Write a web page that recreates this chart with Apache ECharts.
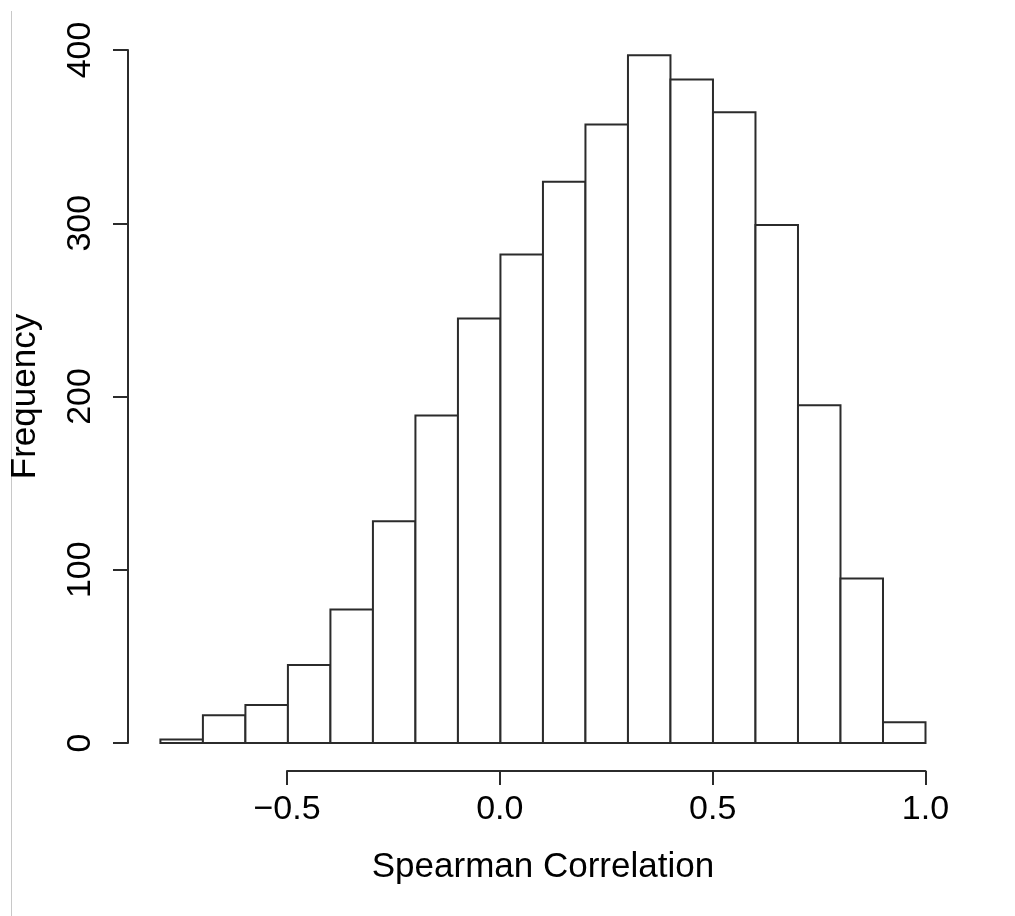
<!DOCTYPE html>
<html>
<head>
<meta charset="utf-8">
<script src="https://cdn.jsdelivr.net/npm/echarts@6/dist/echarts.min.js"></script>
<style>
  html, body { margin: 0; padding: 0; background: #fff; }
  #hist { width: 1015px; height: 916px; }
</style>
</head>
<body>
<div id="hist"></div>
<script>
// bin edges (Spearman correlation) and counts per bin
var binEdges = [-0.8, -0.7, -0.6, -0.5, -0.4, -0.3, -0.2, -0.1, 0.0, 0.1,
                0.2, 0.3, 0.4, 0.5, 0.6, 0.7, 0.8, 0.9, 1.0];
var binCounts = [2, 16, 22, 45, 77, 128, 189, 245, 282, 324,
                 357, 397, 383, 364, 299, 195, 95, 12];
var xTicks = [-0.5, 0.0, 0.5, 1.0];
var yTicks = [0, 100, 200, 300, 400];
var xTitle = 'Spearman Correlation';
var yTitle = 'Frequency';

var fontFam = "'Liberation Sans', Arial, sans-serif";
var lineCol = '#2b2b2b';
var textCol = '#000';

// rows for the custom series: [start, end, count]
var histData = binCounts.map(function (c, i) {
  return [binEdges[i], binEdges[i + 1], c];
});

function renderBin(params, api) {
  var p0 = api.coord([api.value(0), 0]);
  var p1 = api.coord([api.value(1), api.value(2)]);
  return {
    type: 'rect',
    shape: { x: p0[0], y: p1[1], width: p1[0] - p0[0], height: p0[1] - p1[1] },
    style: { fill: '#fff', stroke: lineCol, lineWidth: 2 }
  };
}

var chart = echarts.init(document.getElementById('hist'), null, { renderer: 'canvas' });

var option = {
  animation: false,
  backgroundColor: '#fff',
  grid: [
    { left: 159.4, right: 89.5, top: 50, bottom: 173 },
    // grid just for the R-style x axis that runs from -0.5 to 1.0
    { left: 287, right: 89.5, top: 50, bottom: 173 }
  ],
  xAxis: [{
    type: 'value',
    gridIndex: 0,
    min: binEdges[0],
    max: binEdges[binEdges.length - 1],
    axisLine: { show: false, onZero: false },
    axisTick: { show: false },
    axisLabel: { show: false },
    splitLine: { show: false },
    name: xTitle,
    nameLocation: 'middle',
    nameGap: 107,
    nameTextStyle: { fontFamily: fontFam, fontSize: 35, color: textCol }
  }, {
    type: 'value',
    gridIndex: 1,
    min: xTicks[0],
    max: xTicks[xTicks.length - 1],
    interval: 0.5,
    offset: 28,
    axisLine: { show: true, onZero: false, lineStyle: { color: lineCol, width: 2 } },
    axisTick: { show: true, length: 14, lineStyle: { color: lineCol, width: 2 } },
    axisLabel: {
      margin: 22,
      fontFamily: fontFam,
      fontSize: 34,
      color: textCol,
      formatter: function (v) { return v.toFixed(1).replace('-', '\u2212'); }
    },
    splitLine: { show: false }
  }],
  yAxis: [{
    type: 'value',
    gridIndex: 0,
    min: yTicks[0],
    max: yTicks[yTicks.length - 1],
    interval: 100,
    offset: 32.4,
    axisLine: { show: true, onZero: false, lineStyle: { color: lineCol, width: 2 } },
    axisTick: { show: true, length: 15, lineStyle: { color: lineCol, width: 2 } },
    axisLabel: {
      rotate: 90,
      margin: 30,
      fontFamily: fontFam,
      fontSize: 34,
      color: textCol
    },
    splitLine: { show: false },
    name: yTitle,
    nameLocation: 'middle',
    nameGap: 85,
    nameTextStyle: { fontFamily: fontFam, fontSize: 35, color: textCol }
  }, {
    type: 'value',
    gridIndex: 1,
    min: 0,
    max: 400,
    show: false
  }],
  graphic: [{
    // thin frame line at the left edge of the screenshot
    type: 'line',
    shape: { x1: 11.5, y1: 11, x2: 11.5, y2: 916 },
    style: { stroke: '#c8c8c8', lineWidth: 1 }
  }],
  series: [{
    type: 'custom',
    xAxisIndex: 0,
    yAxisIndex: 0,
    renderItem: renderBin,
    encode: { x: [0, 1], y: 2 },
    data: histData
  }]
};

chart.setOption(option);
</script>
</body>
</html>
